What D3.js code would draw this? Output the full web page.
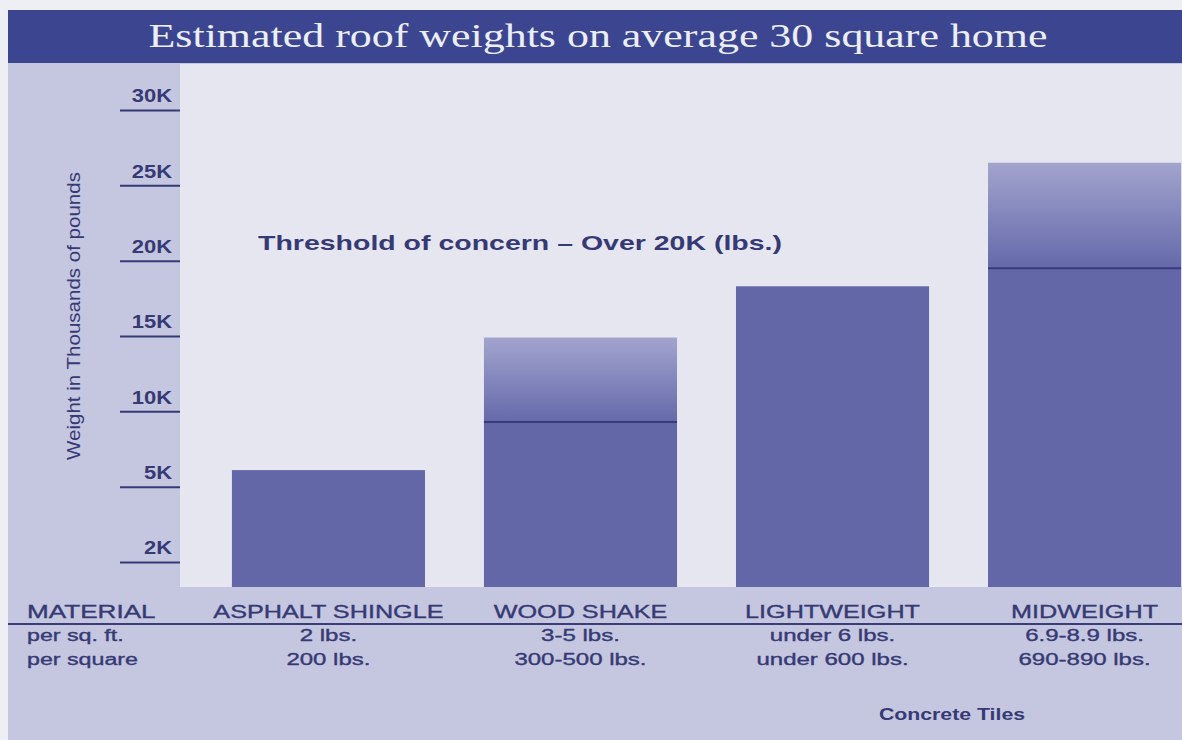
<!DOCTYPE html>
<html>
<head>
<meta charset="utf-8">
<script src="https://cdn.jsdelivr.net/npm/d3@7"></script>
<style>
  body { margin: 0; background: #eeeef5; }
  svg { display: block; }
  text { font-family: "Liberation Sans", Arial, sans-serif; }
</style>
</head>
<body>
<svg id="chart"></svg>
<script>
// roof weight data (lbs on a 30 square home)
const materials = ["ASPHALT SHINGLE", "WOOD SHAKE", "LIGHTWEIGHT", "MIDWEIGHT"];
const lowWeight = [6100, 9300, 18300, 19500];
const highWeight = [6100, 14900, 18300, 26500];
const perSqFt = ["2 lbs.", "3-5 lbs.", "under 6 lbs.", "6.9-8.9 lbs."];
const perSquare = ["200 lbs.", "300-500 lbs.", "under 600 lbs.", "690-890 lbs."];
const tickValues = [0, 5000, 10000, 15000, 20000, 25000, 30000];
const tickLabels = ["2K", "5K", "10K", "15K", "20K", "25K", "30K"];

const width = 1182, height = 740;
const plot = {left: 180, top: 64, right: 1182, bottom: 587};
const navy = "#363a74";

const svg = d3.select("#chart").attr("width", width).attr("height", height);

// stretch text horizontally, the original uses a wide face
function stretch(sel, k) {
    sel.each(function() {
        const w = this.getComputedTextLength();
        d3.select(this).attr("textLength", w * k).attr("lengthAdjust", "spacingAndGlyphs");
    });
}

// backgrounds
svg.append("rect").attr("x", 8).attr("y", 10).attr("width", width - 8).attr("height", height - 10).attr("fill", "#c5c6e0");
svg.append("rect").attr("x", plot.left).attr("y", plot.top)
    .attr("width", plot.right - plot.left).attr("height", plot.bottom - plot.top).attr("fill", "#e6e6f0");

// title band
svg.append("rect").attr("x", 8).attr("y", 10).attr("width", width - 8).attr("height", 53).attr("fill", "#3c4690");
svg.append("text").attr("x", 598).attr("y", 47).attr("text-anchor", "middle")
    .style("font-family", "'Liberation Serif', serif").attr("font-size", 33).attr("fill", "#eceef6")
    .text("Estimated roof weights on average 30 square home")
    .attr("textLength", 899).attr("lengthAdjust", "spacingAndGlyphs");

const y = d3.scaleLinear().domain([0, 30000]).range([562, 110]);
const x = d3.scaleBand().domain(materials).range([180, 1233]).paddingInner(0.234).paddingOuter(0.206);

// y axis: underlined labels
const yAxis = svg.append("g").attr("transform", `translate(${plot.left},0)`)
    .call(d3.axisLeft(y).tickValues(tickValues).tickFormat((d, i) => tickLabels[i]).tickSize(60).tickPadding(0));
yAxis.select(".domain").remove();
yAxis.selectAll(".tick line").attr("stroke", navy).attr("stroke-width", 2);
yAxis.selectAll(".tick text").attr("x", -8).attr("dy", "-0.45em").attr("fill", navy)
    .attr("font-size", 18).attr("font-weight", "bold").style("font-family", "'Liberation Sans', sans-serif")
    .call(stretch, 1.22);

svg.append("text").attr("transform", "translate(80,316) rotate(-90)").attr("text-anchor", "middle")
    .attr("font-size", 19).attr("fill", navy).text("Weight in Thousands of pounds")
    .call(stretch, 1.08);

// gradient for the range part of bars
const grad = svg.append("defs").append("linearGradient").attr("id", "rangeGrad")
    .attr("x1", 0).attr("y1", 0).attr("x2", 0).attr("y2", 1);
grad.append("stop").attr("offset", "0%").attr("stop-color", "#a2a4cd");
grad.append("stop").attr("offset", "100%").attr("stop-color", "#6569aa");

const barColor = "#6367a8";
const ranged = materials.filter((d, i) => highWeight[i] > lowWeight[i]);
const bars = svg.append("g");
bars.selectAll(".low").data(materials).join("rect")
    .attr("x", d => x(d)).attr("width", x.bandwidth())
    .attr("y", (d, i) => y(lowWeight[i])).attr("height", (d, i) => plot.bottom - y(lowWeight[i]))
    .attr("fill", barColor);
bars.selectAll(".high").data(ranged).join("rect")
    .attr("x", d => x(d)).attr("width", x.bandwidth())
    .attr("y", d => y(highWeight[materials.indexOf(d)]))
    .attr("height", d => y(lowWeight[materials.indexOf(d)]) - y(highWeight[materials.indexOf(d)]))
    .attr("fill", "url(#rangeGrad)");
bars.selectAll(".split").data(ranged).join("line")
    .attr("x1", d => x(d)).attr("x2", d => x(d) + x.bandwidth())
    .attr("y1", d => y(lowWeight[materials.indexOf(d)])).attr("y2", d => y(lowWeight[materials.indexOf(d)]))
    .attr("stroke", "#383b7a").attr("stroke-width", 2);

// threshold note
svg.append("text").attr("x", 258).attr("y", y(20000) - 11).attr("font-size", 21).attr("font-weight", "bold")
    .attr("fill", navy).text("Threshold of concern \u2013 Over 20K (lbs.)")
    .attr("textLength", 524).attr("lengthAdjust", "spacingAndGlyphs");

// table below the bars
const table = svg.append("g").attr("fill", navy).attr("stroke", navy).attr("stroke-width", 0.35);
const cx = i => x(materials[i]) + x.bandwidth() / 2;
table.append("text").attr("x", 27).attr("y", 618).attr("font-size", 18).text("MATERIAL").call(stretch, 1.45);
table.selectAll(".head").data(materials).join("text")
    .attr("x", (d, i) => cx(i)).attr("y", 618).attr("text-anchor", "middle")
    .attr("font-size", 18).text(d => d).call(stretch, 1.4);
svg.append("line").attr("x1", 8).attr("x2", width).attr("y1", 624).attr("y2", 624)
    .attr("stroke", "#3a3e78").attr("stroke-width", 2);

table.append("text").attr("x", 27).attr("y", 641).attr("font-size", 16).text("per sq. ft.").call(stretch, 1.45);
table.append("text").attr("x", 27).attr("y", 665).attr("font-size", 16).text("per square").call(stretch, 1.45);
table.selectAll(".sqft").data(perSqFt).join("text")
    .attr("x", (d, i) => cx(i)).attr("y", 641).attr("text-anchor", "middle")
    .attr("font-size", 16).text(d => d).call(stretch, 1.5);
table.selectAll(".sq").data(perSquare).join("text")
    .attr("x", (d, i) => cx(i)).attr("y", 665).attr("text-anchor", "middle")
    .attr("font-size", 16).text(d => d).call(stretch, 1.5);

table.append("text").attr("x", 952).attr("y", 720).attr("text-anchor", "middle")
    .attr("font-size", 17).attr("font-weight", "bold").attr("stroke-width", 0).text("Concrete Tiles").call(stretch, 1.25);
</script>
</body>
</html>
